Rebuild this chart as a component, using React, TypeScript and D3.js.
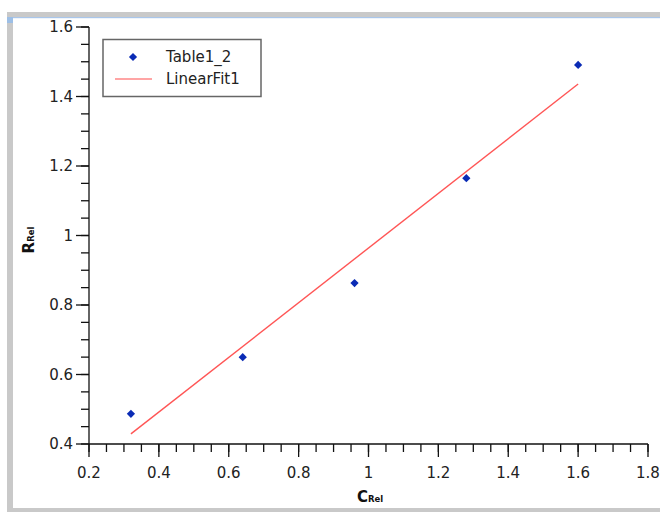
import React from 'react';
import * as d3 from 'd3';

// measured points
const cRel = [0.32, 0.64, 0.96, 1.28, 1.6];
const rRel = [0.487, 0.65, 0.863, 1.165, 1.491];

// linear fit end points
const fitX = [0.32, 1.6];
const fitY = [0.429, 1.436];

const xTickVals = [0.2, 0.4, 0.6, 0.8, 1, 1.2, 1.4, 1.6, 1.8];
const yTickVals = [0.4, 0.6, 0.8, 1, 1.2, 1.4, 1.6];

const legendNames = ['Table1_2', 'LinearFit1'];

const FONT = 'DejaVu Sans, Verdana, sans-serif';
const BLUE = '#0a2bb5';
const RED = '#ff5555';

const App = () => {
  const width = 660,
    height = 512;

  const x = d3.scaleLinear().domain([0.2, 1.8]).range([89, 648]);
  const y = d3.scaleLinear().domain([0.4, 1.6]).range([444, 27]);

  const xMinor = x.ticks(32);
  const yMinor = y.ticks(24);

  const fitLine = d3
    .line<number>()
    .x((d) => x(d))
    .y((d, i) => y(fitY[i]));

  const diamond = d3.symbol().type(d3.symbolSquare).size(34)();

  return (
    <svg
      width={width}
      height={height}
      style={{ position: 'absolute', left: 0, top: 0, background: '#fff' }}
      fontFamily={FONT}
    >
      {/* window frame */}
      <rect x={7} y={12} width={653} height={500} fill="#c9c9c9" />
      <rect x={13} y={18} width={647} height={490} fill="#fff" />
      <rect x={13} y={17} width={647} height={1.2} fill="#a9c6ea" />
      <rect x={7} y={17} width={6} height={6} fill="#9dbfe6" />

      {/* linear fit */}
      <path d={fitLine(fitX) || ''} fill="none" stroke={RED} strokeWidth={1.4} />

      {/* points */}
      {cRel.map((c, i) => (
        <path
          key={i}
          d={diamond}
          transform={`translate(${x(c)},${y(rRel[i])}) rotate(45)`}
          fill={BLUE}
        />
      ))}

      {/* y axis */}
      <g stroke="#111" strokeWidth={1.3}>
        <line x1={x(0.2)} x2={x(0.2)} y1={y(1.6)} y2={y(0.4)} />
        {yMinor.map((t) => (
          <line key={'ym' + t} x1={x(0.2) - 8} x2={x(0.2)} y1={y(t)} y2={y(t)} />
        ))}
        {yTickVals.map((t) => (
          <line key={'yM' + t} x1={x(0.2) - 13} x2={x(0.2)} y1={y(t)} y2={y(t)} />
        ))}
        <line x1={x(0.2)} x2={x(1.8)} y1={y(0.4)} y2={y(0.4)} />
        {xMinor.map((t) => (
          <line key={'xm' + t} x1={x(t)} x2={x(t)} y1={y(0.4)} y2={y(0.4) + 8} />
        ))}
        {xTickVals.map((t) => (
          <line key={'xM' + t} x1={x(t)} x2={x(t)} y1={y(0.4)} y2={y(0.4) + 13} />
        ))}
      </g>
      {yTickVals.map((t) => (
        <text key={'yl' + t} x={73} y={y(t)} dy="0.36em" textAnchor="end" fontSize={15} fill="#222">
          {String(t)}
        </text>
      ))}
      {xTickVals.map((t) => (
        <text key={'xl' + t} x={x(t)} y={478} textAnchor="middle" fontSize={15} fill="#222">
          {String(t)}
        </text>
      ))}

      {/* axis titles */}
      <text x={370} y={502} textAnchor="middle" fontWeight="bold" fill="#111">
        <tspan fontSize={15}>C</tspan>
        <tspan fontSize={8.5}>Rel</tspan>
      </text>
      <text
        transform="translate(34,240) rotate(-90)"
        textAnchor="middle"
        fontWeight="bold"
        fill="#111"
      >
        <tspan fontSize={15}>R</tspan>
        <tspan fontSize={8.5}>Rel</tspan>
      </text>

      {/* legend */}
      <rect x={103} y={39.5} width={158} height={57} fill="#fff" stroke="#666" strokeWidth={1.5} />
      <path d={diamond} transform="translate(133,57) rotate(45)" fill={BLUE} />
      <line x1={115} x2={152} y1={79} y2={79} stroke={RED} strokeWidth={1.4} opacity={0.7} />
      <text x={166} y={57} dy="0.36em" fontSize={15} fill="#222">
        {legendNames[0]}
      </text>
      <text x={166} y={79} dy="0.36em" fontSize={15} fill="#222">
        {legendNames[1]}
      </text>
    </svg>
  );
};

export default App;
